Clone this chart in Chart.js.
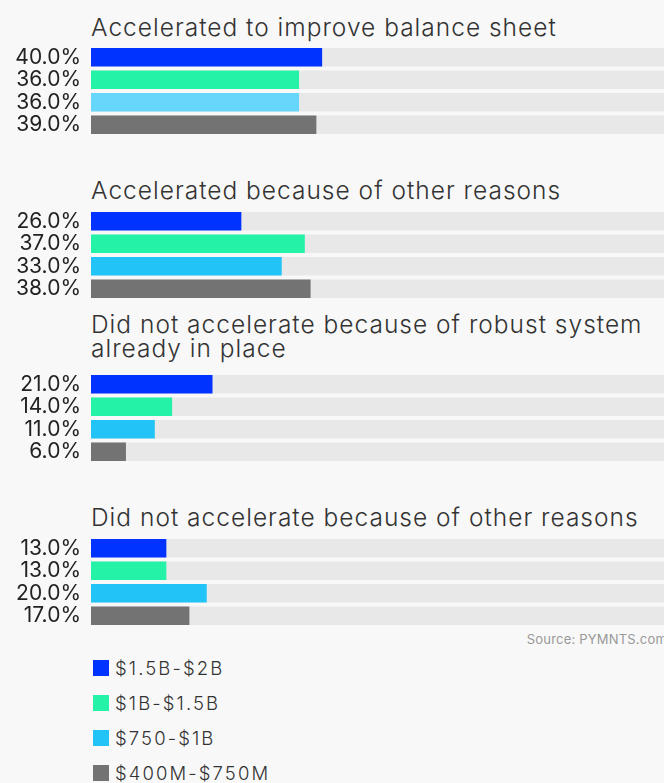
<!DOCTYPE html>
<html lang="en">
<head>
    <meta charset="UTF-8">
    <title>Acceleration by company size</title>
    <style>
        html, body {
            margin: 0;
            padding: 0;
            background: #f8f8f8;
            overflow: hidden;
            width: 664px;
            height: 783px;
            font-family: Inter, "Open Sans", sans-serif;
        }
        .group-title {
            position: absolute;
            left: 91px;
            font-size: 24.5px;
            font-weight: 300;
            letter-spacing: 1px;
            line-height: 24px;
            color: #333;
            white-space: pre-line;
        }
        .bars {
            position: absolute;
            left: 0;
            width: 668px;
            height: 90px;
        }
        .source {
            position: absolute;
            right: -3px;
            top: 631px;
            font-size: 13px;
            letter-spacing: 0.2px;
            color: #999;
        }
        .legend {
            position: absolute;
            left: 93px;
            top: 660px;
        }
        .legend-row {
            display: flex;
            align-items: center;
            height: 16px;
            margin-bottom: 19px;
            font-size: 18.5px;
            font-weight: 300;
            letter-spacing: 2.1px;
            color: #333;
        }
        .legend-row span.box {
            width: 16px;
            height: 16px;
            margin-right: 6px;
        }
    </style>
    <script src="https://cdn.jsdelivr.net/npm/chart.js"></script>
</head>
<body>
    <div id="root"></div>
    <div class="source">Source: PYMNTS.com</div>
    <div class="legend" id="legend"></div>

    <script>
        const reasons = [
            'Accelerated to improve balance sheet',
            'Accelerated because of other reasons',
            'Did not accelerate because of robust system\nalready in place',
            'Did not accelerate because of other reasons'
        ]
        const sizeBands = ['$1.5B-$2B', '$1B-$1.5B', '$750-$1B', '$400M-$750M']

        // share of firms per size band, one entry per reason
        const band15to2B = [40, 26, 21, 13]
        const band1to15B = [36, 37, 14, 13]
        const band750to1B = [36, 33, 11, 20]
        const band400to750M = [39, 38, 6, 17]
        const bandSeries = [band15to2B, band1to15B, band750to1B, band400to750M]

        const bandColors = ['#0033ff', '#24f2a6', '#22c4f8', '#737373']
        const highlightCyan = '#66d6fa'
        const trackColor = '#e8e8e8'
        const trackValues = [100, 100, 100, 100]

        const titleTops = [15, 178, 312, 505]
        const chartTops = [46, 210, 373, 537]

        const root = document.getElementById('root')

        reasons.forEach((reason, g) => {
            const title = document.createElement('div')
            title.className = 'group-title'
            title.style.top = titleTops[g] + 'px'
            title.textContent = reason
            root.appendChild(title)

            const box = document.createElement('div')
            box.className = 'bars'
            box.style.top = chartTops[g] + 'px'
            const canvas = document.createElement('canvas')
            box.appendChild(canvas)
            root.appendChild(box)

            const values = bandSeries.map(s => s[g])
            const colors = bandColors.slice()
            if (g === 0) colors[2] = highlightCyan

            new Chart(canvas, {
                type: 'bar',
                data: {
                    labels: values.map(v => v.toFixed(1) + '%'),
                    datasets: [
                        {
                            data: values,
                            backgroundColor: colors,
                            barThickness: 18,
                            grouped: false,
                            order: 1
                        },
                        {
                            data: trackValues,
                            backgroundColor: trackColor,
                            barThickness: 18,
                            grouped: false,
                            order: 2
                        }
                    ]
                },
                options: {
                    indexAxis: 'y',
                    responsive: true,
                    maintainAspectRatio: false,
                    animation: false,
                    layout: { padding: 0 },
                    plugins: {
                        legend: { display: false },
                        tooltip: { enabled: false }
                    },
                    scales: {
                        x: { display: false, min: 0, max: 100 },
                        y: {
                            grid: { display: false, drawTicks: false },
                            border: { display: false },
                            ticks: {
                                autoSkip: false,
                                padding: 10,
                                color: '#222',
                                font: { family: 'Inter', size: 21, weight: 400 }
                            },
                            // fixed label column, no extra room above/below the bars
                            afterFit: scale => {
                                scale.width = 91
                                scale.paddingTop = 0
                                scale.paddingBottom = 0
                            }
                        }
                    }
                }
            })
        })

        const legend = document.getElementById('legend')
        sizeBands.forEach((band, i) => {
            const row = document.createElement('div')
            row.className = 'legend-row'
            const sw = document.createElement('span')
            sw.className = 'box'
            sw.style.background = bandColors[i]
            const label = document.createElement('span')
            label.textContent = band
            row.appendChild(sw)
            row.appendChild(label)
            legend.appendChild(row)
        })
    </script>
</body>
</html>
